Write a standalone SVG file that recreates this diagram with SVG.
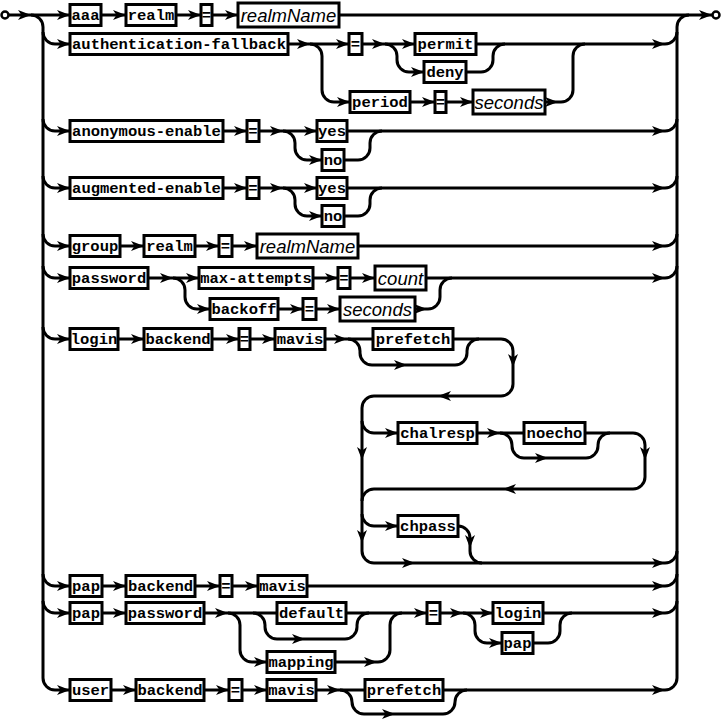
<svg xmlns="http://www.w3.org/2000/svg" xmlns:xlink="http://www.w3.org/1999/xlink" width="722" height="721" viewBox="0 0 722 721">
<style>
.c{fill:none;stroke:#000;stroke-width:3}
.b{fill:#fff;stroke:#000;stroke-width:3}
.t{font-family:"Liberation Mono","DejaVu Sans Mono",monospace;font-weight:bold;font-size:15.5px;text-anchor:middle}
.n{font-family:"Liberation Sans",Arial,sans-serif;font-style:italic;font-size:18.5px;text-anchor:middle}
.e{fill:#fff;stroke:#000;stroke-width:2.5}
</style>
<defs>
<path id="a" d="M0,0 L-13,-5 L-9.5,0 L-13,5 Z" fill="#000"/>
</defs>
<g id="connectors">
<path class="c" d="M9,15 L712,15"/>
<path class="c" d="M31,15 A12,12 0 0 1 43,27 L43,678 A12,12 0 0 0 55,690 L665,690 A12,12 0 0 0 677,678"/>
<path class="c" d="M677,678 L677,27 A12,12 0 0 1 689,15"/>
<path class="c" d="M43,32 A12,12 0 0 0 55,44 L665,44 A12,12 0 0 0 677,32"/>
<path class="c" d="M310,44 A12,12 0 0 1 322,56 L322,90 A12,12 0 0 0 334,102 L561,102 A12,12 0 0 0 573,90 L573,56 A12,12 0 0 1 585,44"/>
<path class="c" d="M385,44 A12,12 0 0 1 397,56 L397,60 A12,12 0 0 0 409,72 L481,72 A12,12 0 0 0 493,60 L493,56 A12,12 0 0 1 505,44"/>
<path class="c" d="M43,119 A12,12 0 0 0 55,131 L665,131 A12,12 0 0 0 677,119"/>
<path class="c" d="M283,131 A12,12 0 0 1 295,143 L295,148 A12,12 0 0 0 307,160 L358,160 A12,12 0 0 0 370,148 L370,143 A12,12 0 0 1 382,131"/>
<path class="c" d="M43,176 A12,12 0 0 0 55,188 L665,188 A12,12 0 0 0 677,176"/>
<path class="c" d="M283,188 A12,12 0 0 1 295,200 L295,204 A12,12 0 0 0 307,216 L358,216 A12,12 0 0 0 370,204 L370,200 A12,12 0 0 1 382,188"/>
<path class="c" d="M43,234 A12,12 0 0 0 55,246 L665,246 A12,12 0 0 0 677,234"/>
<path class="c" d="M43,266 A12,12 0 0 0 55,278 L665,278 A12,12 0 0 0 677,266"/>
<path class="c" d="M173,278 A12,12 0 0 1 185,290 L185,297 A12,12 0 0 0 197,309 L428,309 A12,12 0 0 0 440,297 L440,290 A12,12 0 0 1 452,278"/>
<path class="c" d="M43,327 A12,12 0 0 0 55,339 L501,339 A12,12 0 0 1 513,351 L513,384 A12,12 0 0 1 501,396 L374,396 A12,12 0 0 0 362,408 L362,551 A12,12 0 0 0 374,563 L665,563 A12,12 0 0 0 677,551"/>
<path class="c" d="M348,339 A12,12 0 0 1 360,351 L360,353 A12,12 0 0 0 372,365 L455,365 A12,12 0 0 0 467,353 L467,351 A12,12 0 0 1 479,339"/>
<path class="c" d="M362,421 A12,12 0 0 0 374,433 L633,433 A12,12 0 0 1 645,445 L645,477 A12,12 0 0 1 633,489 L374,489 A12,12 0 0 0 362,501"/>
<path class="c" d="M500,433 A12,12 0 0 1 512,445 L512,446 A12,12 0 0 0 524,458 L586,458 A12,12 0 0 0 598,446 L598,445 A12,12 0 0 1 610,433"/>
<path class="c" d="M362,514 A12,12 0 0 0 374,526 L458,526 A12,12 0 0 1 470,538 L470,551 A12,12 0 0 0 482,563"/>
<path class="c" d="M43,574 A12,12 0 0 0 55,586 L665,586 A12,12 0 0 0 677,574"/>
<path class="c" d="M43,601 A12,12 0 0 0 55,613 L665,613 A12,12 0 0 0 677,601"/>
<path class="c" d="M253,613 A12,12 0 0 1 265,625 L265,627 A12,12 0 0 0 277,639 L345,639 A12,12 0 0 0 357,627 L357,625 A12,12 0 0 1 369,613"/>
<path class="c" d="M228,613 A12,12 0 0 1 240,625 L240,650 A12,12 0 0 0 252,662 L378,662 A12,12 0 0 0 390,650 L390,625 A12,12 0 0 1 402,613"/>
<path class="c" d="M463,613 A12,12 0 0 1 475,625 L475,631 A12,12 0 0 0 487,643 L548,643 A12,12 0 0 0 560,631 L560,625 A12,12 0 0 1 572,613"/>
<path class="c" d="M340,690 A12,12 0 0 1 352,702 A12,12 0 0 0 364,714 L443,714 A12,12 0 0 0 455,702 A12,12 0 0 1 467,690"/>
<!-- arrowheads -->
<use href="#a" x="31" y="15"/><use href="#a" x="70" y="15"/><use href="#a" x="126" y="15"/><use href="#a" x="201" y="15"/><use href="#a" x="238" y="15"/><use href="#a" x="712" y="15"/>
<use href="#a" x="70" y="44"/><use href="#a" x="310" y="44"/><use href="#a" x="349" y="44"/><use href="#a" x="385" y="44"/><use href="#a" x="415" y="44"/><use href="#a" x="424" y="72"/><use href="#a" x="350" y="102"/><use href="#a" x="435" y="102"/><use href="#a" x="473" y="102"/><use href="#a" x="558" y="102"/><use href="#a" x="665" y="44"/>
<use href="#a" x="70" y="131"/><use href="#a" x="247" y="131"/><use href="#a" x="283" y="131"/><use href="#a" x="317" y="131"/><use href="#a" x="322" y="160"/><use href="#a" x="665" y="131"/>
<use href="#a" x="70" y="188"/><use href="#a" x="247" y="188"/><use href="#a" x="283" y="188"/><use href="#a" x="317" y="188"/><use href="#a" x="322" y="216"/><use href="#a" x="665" y="188"/>
<use href="#a" x="70" y="246"/><use href="#a" x="144" y="246"/><use href="#a" x="219" y="246"/><use href="#a" x="257" y="246"/><use href="#a" x="665" y="246"/>
<use href="#a" x="70" y="278"/><use href="#a" x="173" y="278"/><use href="#a" x="199" y="278"/><use href="#a" x="338" y="278"/><use href="#a" x="375" y="278"/><use href="#a" x="210" y="309"/><use href="#a" x="303" y="309"/><use href="#a" x="340" y="309"/><use href="#a" x="427" y="309"/><use href="#a" x="665" y="278"/>
<use href="#a" x="70" y="339"/><use href="#a" x="144" y="339"/><use href="#a" x="239" y="339"/><use href="#a" x="275" y="339"/><use href="#a" x="347" y="339"/><use href="#a" x="407" y="365"/>
<use href="#a" transform="translate(513,367) rotate(90)"/><use href="#a" transform="translate(438,396) rotate(180)"/>
<use href="#a" x="398" y="433"/><use href="#a" x="500" y="433"/><use href="#a" x="548" y="458"/>
<use href="#a" transform="translate(645,460) rotate(90)"/><use href="#a" transform="translate(503,489) rotate(180)"/>
<use href="#a" transform="translate(362,460) rotate(90)"/><use href="#a" transform="translate(362,543) rotate(90)"/>
<use href="#a" x="398" y="526"/><use href="#a" transform="translate(470,548) rotate(90)"/><use href="#a" x="415" y="563"/><use href="#a" x="665" y="563"/>
<use href="#a" x="70" y="586"/><use href="#a" x="126" y="586"/><use href="#a" x="220" y="586"/><use href="#a" x="258" y="586"/><use href="#a" x="665" y="586"/>
<use href="#a" x="70" y="613"/><use href="#a" x="126" y="613"/><use href="#a" x="228" y="613"/><use href="#a" x="305" y="639"/><use href="#a" x="267" y="662"/><use href="#a" x="377" y="662"/><use href="#a" x="427" y="613"/><use href="#a" x="463" y="613"/><use href="#a" x="493" y="613"/><use href="#a" x="502" y="643"/><use href="#a" x="665" y="613"/>
<use href="#a" x="70" y="690"/><use href="#a" x="136" y="690"/><use href="#a" x="229" y="690"/><use href="#a" x="267" y="690"/><use href="#a" x="340" y="690"/><use href="#a" x="395" y="714"/><use href="#a" x="665" y="690"/>
</g>
<g id="start"><circle class="e" cx="5" cy="15" r="3.5"/></g>
<g id="end"><circle class="e" cx="716" cy="15" r="3.5"/></g>
<!-- row 1 -->
<g id="n-aaa"><rect class="b" x="70" y="4.5" width="31" height="21"/><text class="t" x="85.5" y="19.5">aaa</text></g>
<g id="n-realm1"><rect class="b" x="126" y="4.5" width="50" height="21"/><text class="t" x="151" y="19.5">realm</text></g>
<g id="n-eq1"><rect class="b" x="201" y="4.5" width="11" height="21"/><text class="t" x="206.5" y="19.5">=</text></g>
<g id="n-realmName1"><rect class="b" x="238" y="3" width="101" height="24"/><text class="n" x="288.5" y="21.5">realmName</text></g>
<!-- row 2 -->
<g id="n-authfb"><rect class="b" x="70" y="33.5" width="218" height="21"/><text class="t" x="179" y="48.5">authentication-fallback</text></g>
<g id="n-eq2"><rect class="b" x="349" y="33.5" width="13" height="21"/><text class="t" x="355.5" y="48.5">=</text></g>
<g id="n-permit"><rect class="b" x="415" y="33.5" width="61" height="21"/><text class="t" x="445.5" y="48.5">permit</text></g>
<g id="n-deny"><rect class="b" x="424" y="61.5" width="42" height="21"/><text class="t" x="445" y="76.5">deny</text></g>
<g id="n-period"><rect class="b" x="350" y="91.5" width="60" height="21"/><text class="t" x="380" y="106.5">period</text></g>
<g id="n-eq3"><rect class="b" x="435" y="91.5" width="11" height="21"/><text class="t" x="440.5" y="106.5">=</text></g>
<g id="n-seconds1"><rect class="b" x="473" y="90" width="72" height="24"/><text class="n" x="509" y="108.5">seconds</text></g>
<!-- row 3 -->
<g id="n-anon"><rect class="b" x="70" y="120.5" width="153" height="21"/><text class="t" x="146.5" y="135.5">anonymous-enable</text></g>
<g id="n-eq4"><rect class="b" x="247" y="120.5" width="12" height="21"/><text class="t" x="253" y="135.5">=</text></g>
<g id="n-yes1"><rect class="b" x="317" y="120.5" width="30" height="21"/><text class="t" x="332" y="135.5">yes</text></g>
<g id="n-no1"><rect class="b" x="322" y="149.5" width="22" height="21"/><text class="t" x="333" y="164.5">no</text></g>
<!-- row 4 -->
<g id="n-aug"><rect class="b" x="70" y="177.5" width="153" height="21"/><text class="t" x="146.5" y="192.5">augmented-enable</text></g>
<g id="n-eq5"><rect class="b" x="247" y="177.5" width="12" height="21"/><text class="t" x="253" y="192.5">=</text></g>
<g id="n-yes2"><rect class="b" x="317" y="177.5" width="30" height="21"/><text class="t" x="332" y="192.5">yes</text></g>
<g id="n-no2"><rect class="b" x="322" y="205.5" width="22" height="21"/><text class="t" x="333" y="220.5">no</text></g>
<!-- row 5 -->
<g id="n-group"><rect class="b" x="70" y="235.5" width="50" height="21"/><text class="t" x="95" y="250.5">group</text></g>
<g id="n-realm2"><rect class="b" x="144" y="235.5" width="51" height="21"/><text class="t" x="169.5" y="250.5">realm</text></g>
<g id="n-eq6"><rect class="b" x="219" y="235.5" width="13" height="21"/><text class="t" x="225.5" y="250.5">=</text></g>
<g id="n-realmName2"><rect class="b" x="257" y="234" width="101" height="24"/><text class="n" x="307.5" y="252.5">realmName</text></g>
<!-- row 6 -->
<g id="n-password1"><rect class="b" x="70" y="267.5" width="78" height="21"/><text class="t" x="109" y="282.5">password</text></g>
<g id="n-maxatt"><rect class="b" x="199" y="267.5" width="114" height="21"/><text class="t" x="256" y="282.5">max-attempts</text></g>
<g id="n-eq7"><rect class="b" x="338" y="267.5" width="12" height="21"/><text class="t" x="344" y="282.5">=</text></g>
<g id="n-count"><rect class="b" x="375" y="266" width="51" height="24"/><text class="n" x="400.5" y="284.5">count</text></g>
<g id="n-backoff"><rect class="b" x="210" y="298.5" width="68" height="21"/><text class="t" x="244" y="313.5">backoff</text></g>
<g id="n-eq8"><rect class="b" x="303" y="298.5" width="13" height="21"/><text class="t" x="309.5" y="313.5">=</text></g>
<g id="n-seconds2"><rect class="b" x="340" y="297" width="75" height="24"/><text class="n" x="377.5" y="315.5">seconds</text></g>
<!-- row 7 -->
<g id="n-login1"><rect class="b" x="70" y="328.5" width="48" height="21"/><text class="t" x="94" y="343.5">login</text></g>
<g id="n-backend1"><rect class="b" x="144" y="328.5" width="68" height="21"/><text class="t" x="178" y="343.5">backend</text></g>
<g id="n-eq9"><rect class="b" x="239" y="328.5" width="11" height="21"/><text class="t" x="244.5" y="343.5">=</text></g>
<g id="n-mavis1"><rect class="b" x="275" y="328.5" width="50" height="21"/><text class="t" x="300" y="343.5">mavis</text></g>
<g id="n-prefetch1"><rect class="b" x="373" y="328.5" width="80" height="21"/><text class="t" x="413" y="343.5">prefetch</text></g>
<g id="n-chalresp"><rect class="b" x="398" y="422.5" width="79" height="21"/><text class="t" x="437.5" y="437.5">chalresp</text></g>
<g id="n-noecho"><rect class="b" x="524" y="422.5" width="61" height="21"/><text class="t" x="554.5" y="437.5">noecho</text></g>
<g id="n-chpass"><rect class="b" x="398" y="515.5" width="60" height="21"/><text class="t" x="428" y="530.5">chpass</text></g>
<!-- row 8 -->
<g id="n-pap1"><rect class="b" x="70" y="575.5" width="32" height="21"/><text class="t" x="86" y="590.5">pap</text></g>
<g id="n-backend2"><rect class="b" x="126" y="575.5" width="69" height="21"/><text class="t" x="160.5" y="590.5">backend</text></g>
<g id="n-eq10"><rect class="b" x="220" y="575.5" width="12" height="21"/><text class="t" x="226" y="590.5">=</text></g>
<g id="n-mavis2"><rect class="b" x="258" y="575.5" width="49" height="21"/><text class="t" x="282.5" y="590.5">mavis</text></g>
<!-- row 9 -->
<g id="n-pap2"><rect class="b" x="70" y="602.5" width="32" height="21"/><text class="t" x="86" y="617.5">pap</text></g>
<g id="n-password2"><rect class="b" x="126" y="602.5" width="78" height="21"/><text class="t" x="165" y="617.5">password</text></g>
<g id="n-default"><rect class="b" x="277" y="602.5" width="69" height="21"/><text class="t" x="311.5" y="617.5">default</text></g>
<g id="n-mapping"><rect class="b" x="267" y="651.5" width="68" height="21"/><text class="t" x="301" y="666.5">mapping</text></g>
<g id="n-eq11"><rect class="b" x="427" y="602.5" width="13" height="21"/><text class="t" x="433.5" y="617.5">=</text></g>
<g id="n-login2"><rect class="b" x="493" y="602.5" width="50" height="21"/><text class="t" x="518" y="617.5">login</text></g>
<g id="n-pap3"><rect class="b" x="502" y="632.5" width="31" height="21"/><text class="t" x="517.5" y="647.5">pap</text></g>
<!-- row 10 -->
<g id="n-user"><rect class="b" x="70" y="679.5" width="41" height="21"/><text class="t" x="90.5" y="694.5">user</text></g>
<g id="n-backend3"><rect class="b" x="136" y="679.5" width="68" height="21"/><text class="t" x="170" y="694.5">backend</text></g>
<g id="n-eq12"><rect class="b" x="229" y="679.5" width="13" height="21"/><text class="t" x="235.5" y="694.5">=</text></g>
<g id="n-mavis3"><rect class="b" x="267" y="679.5" width="49" height="21"/><text class="t" x="291.5" y="694.5">mavis</text></g>
<g id="n-prefetch2"><rect class="b" x="365" y="679.5" width="78" height="21"/><text class="t" x="404" y="694.5">prefetch</text></g>
</svg>
